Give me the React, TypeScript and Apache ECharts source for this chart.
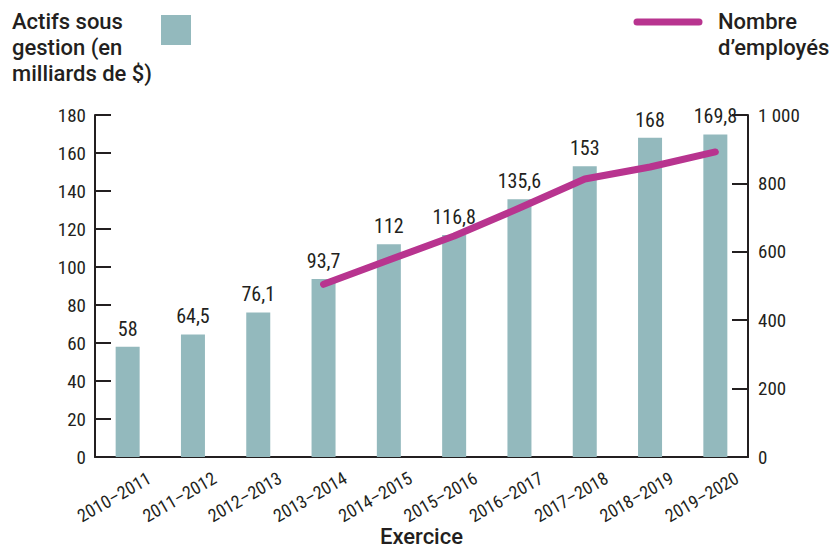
import React, { useEffect, useRef } from "react";
import * as echarts from "echarts";

const categories = ["2010–2011","2011–2012","2012–2013","2013–2014","2014–2015","2015–2016","2016–2017","2017–2018","2018–2019","2019–2020"];
const assets = [58, 64.5, 76.1, 93.7, 112, 116.8, 135.6, 153, 168, 169.8];
const employees = [null, null, null, 505, 576, 646, 728, 813, 848, 892];
const leftTicks = [0, 180, 20];
const rightTicks = [0, 1000, 200];

const BAR = "#93b9bd";
const LINE = "#b8348f";
const INK = "#231f20";
const COND = "'Roboto Condensed', Roboto, sans-serif";
const SANS = "Roboto, 'Noto Sans', sans-serif";

export default function App() {
  const ref = useRef<HTMLDivElement>(null);
  useEffect(() => {
    document.body.style.margin = "0";
    if (!ref.current) return;
    const chart = echarts.init(ref.current, null, { renderer: "svg" });
    chart.setOption({
      animation: false,
      grid: { left: 95, right: 89, top: 115, bottom: 90, containLabel: false, outerBoundsMode: "none" },
      xAxis: {
        type: "category",
        data: categories,
        boundaryGap: true,
        axisLine: { lineStyle: { color: INK, width: 2 } },
        axisTick: { show: false },
        axisLabel: {
          rotate: 30, fontFamily: COND, fontSize: 18, color: INK, margin: 32, interval: 0,
          padding: [0, -25, 0, 0],
        },
        name: "Exercice",
        nameLocation: "middle",
        nameGap: 79,
        nameMoveOverlap: false,
        nameTextStyle: { fontFamily: SANS, fontSize: 22, fontWeight: 500, color: INK, verticalAlign: "middle" },
      },
      yAxis: [
        {
          type: "value",
          min: leftTicks[0], max: leftTicks[1], interval: leftTicks[2],
          axisLine: { show: true, lineStyle: { color: INK, width: 2 } },
          axisTick: { show: true, inside: true, length: 16, lineStyle: { color: INK, width: 2 } },
          splitLine: { show: false },
          axisLabel: { fontFamily: COND, fontSize: 19, color: INK, margin: 9 },
        },
        {
          type: "value",
          min: rightTicks[0], max: rightTicks[1], interval: rightTicks[2],
          position: "right",
          axisLine: { show: true, lineStyle: { color: INK, width: 2 } },
          axisTick: { show: true, inside: true, length: 16, lineStyle: { color: INK, width: 2 } },
          splitLine: { show: false },
          axisLabel: {
            fontFamily: COND, fontSize: 19, color: INK, margin: 10,
            formatter: (v: number) => (v >= 1000 ? String(v).replace(/(\d)(?=(\d{3})+$)/g, "$1 ") : String(v)),
          },
        },
      ],
      series: [
        {
          type: "bar",
          data: assets,
          barWidth: 24,
          itemStyle: { color: BAR },
          label: {
            show: true, position: "top", distance: 8,
            fontFamily: COND, fontSize: 20, color: INK,
            formatter: (p: any) => String(p.value).replace(".", ","),
          },
        },
        {
          type: "line",
          yAxisIndex: 1,
          data: employees,
          symbol: "none",
          lineStyle: { color: LINE, width: 7, cap: "round", join: "round" },
        },
      ],
      graphic: [
        {
          type: "text", left: 12, top: 8,
          style: { text: "Actifs sous\ngestion (en\nmilliards de $)", font: `500 22px ${SANS}`, fill: INK, lineHeight: 26 },
        },
        { type: "rect", shape: { x: 161, y: 15, width: 30, height: 30 }, style: { fill: BAR } },
        { type: "line", shape: { x1: 637, y1: 22, x2: 699, y2: 22 }, style: { stroke: LINE, lineWidth: 7, lineCap: "round" } },
        {
          type: "text", left: 718, top: 8,
          style: { text: "Nombre\nd’employés", font: `500 22px ${SANS}`, fill: INK, lineHeight: 26 },
        },
      ],
    });
    return () => chart.dispose();
  }, []);
  return <div ref={ref} style={{ width: 837, height: 547 }} />;
}
